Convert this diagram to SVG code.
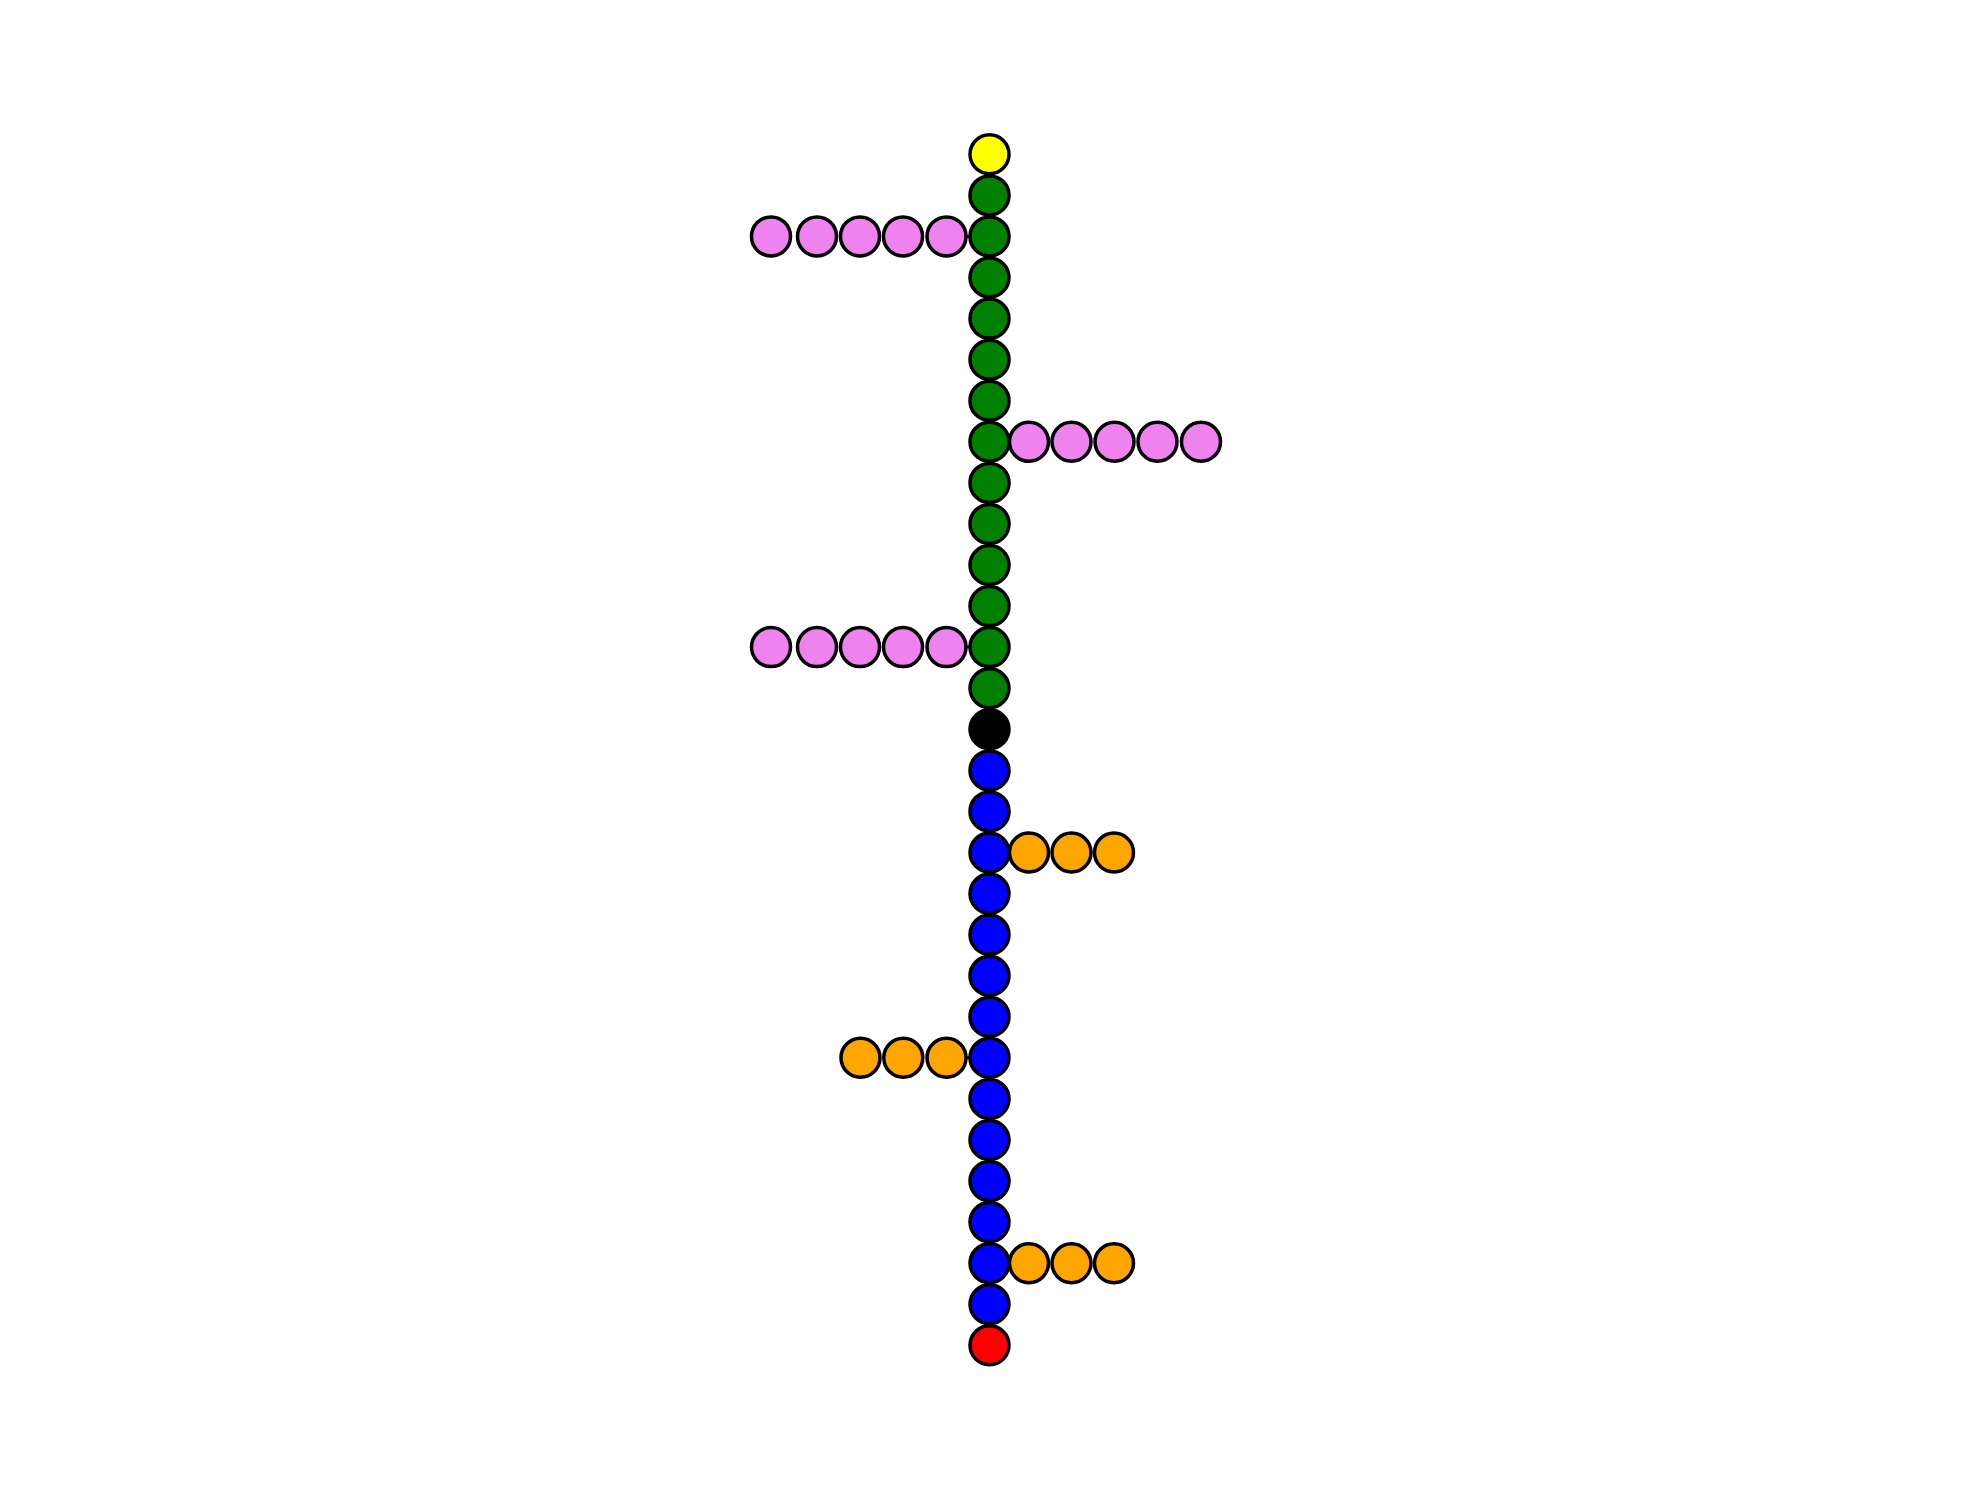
<svg xmlns="http://www.w3.org/2000/svg" width="1980" height="1500" viewBox="0 0 1980 1500">
<style>
.n{stroke:#000;stroke-width:3.5}
.y{fill:#ffff00}.g{fill:#008000}.k{fill:#000}.b{fill:#0000ff}.r{fill:#ff0000}.p{fill:#ee82ee}.o{fill:#ffa500}
.e{stroke:#000;stroke-width:3;fill:none}
</style>
<rect width="1980" height="1500" fill="#fff"/>
<g id="connectors">
<line class="e" x1="989.5" y1="154.3" x2="989.5" y2="1345.3"/>
<line class="e" x1="946.5" y1="236.4" x2="989.5" y2="236.4"/>
<line class="e" x1="989.5" y1="441.8" x2="1029" y2="441.8"/>
<line class="e" x1="946.5" y1="647.1" x2="989.5" y2="647.1"/>
<line class="e" x1="989.5" y1="852.5" x2="1029" y2="852.5"/>
<line class="e" x1="946.5" y1="1057.8" x2="989.5" y2="1057.8"/>
<line class="e" x1="989.5" y1="1263.2" x2="1029" y2="1263.2"/>
</g>
<g id="branch-left-1">
<circle id="p1a" class="n p" cx="771" cy="236.4" r="19.5"/>
<circle id="p1b" class="n p" cx="817" cy="236.4" r="19.5"/>
<circle id="p1c" class="n p" cx="860" cy="236.4" r="19.5"/>
<circle id="p1d" class="n p" cx="903" cy="236.4" r="19.5"/>
<circle id="p1e" class="n p" cx="946.5" cy="236.4" r="19.5"/>
</g>
<g id="branch-right-1">
<circle id="p2e" class="n p" cx="1201" cy="441.8" r="19.5"/>
<circle id="p2d" class="n p" cx="1157.5" cy="441.8" r="19.5"/>
<circle id="p2c" class="n p" cx="1114.5" cy="441.8" r="19.5"/>
<circle id="p2b" class="n p" cx="1071.5" cy="441.8" r="19.5"/>
<circle id="p2a" class="n p" cx="1029" cy="441.8" r="19.5"/>
</g>
<g id="branch-left-2">
<circle id="p3a" class="n p" cx="771" cy="647.1" r="19.5"/>
<circle id="p3b" class="n p" cx="817" cy="647.1" r="19.5"/>
<circle id="p3c" class="n p" cx="860" cy="647.1" r="19.5"/>
<circle id="p3d" class="n p" cx="903" cy="647.1" r="19.5"/>
<circle id="p3e" class="n p" cx="946.5" cy="647.1" r="19.5"/>
</g>
<g id="branch-right-2">
<circle id="o1c" class="n o" cx="1114" cy="852.5" r="19.5"/>
<circle id="o1b" class="n o" cx="1071.5" cy="852.5" r="19.5"/>
<circle id="o1a" class="n o" cx="1029" cy="852.5" r="19.5"/>
</g>
<g id="branch-left-3">
<circle id="o2a" class="n o" cx="860.5" cy="1057.8" r="19.5"/>
<circle id="o2b" class="n o" cx="903.3" cy="1057.8" r="19.5"/>
<circle id="o2c" class="n o" cx="946.5" cy="1057.8" r="19.5"/>
</g>
<g id="branch-right-3">
<circle id="o3c" class="n o" cx="1114" cy="1263.2" r="19.5"/>
<circle id="o3b" class="n o" cx="1071.5" cy="1263.2" r="19.5"/>
<circle id="o3a" class="n o" cx="1029" cy="1263.2" r="19.5"/>
</g>
<g id="main-chain">
<circle id="m0" class="n y" cx="989.5" cy="154.3" r="19.5"/>
<circle id="m1" class="n g" cx="989.5" cy="195.4" r="19.5"/>
<circle id="m2" class="n g" cx="989.5" cy="236.4" r="19.5"/>
<circle id="m3" class="n g" cx="989.5" cy="277.5" r="19.5"/>
<circle id="m4" class="n g" cx="989.5" cy="318.6" r="19.5"/>
<circle id="m5" class="n g" cx="989.5" cy="359.7" r="19.5"/>
<circle id="m6" class="n g" cx="989.5" cy="400.7" r="19.5"/>
<circle id="m7" class="n g" cx="989.5" cy="441.8" r="19.5"/>
<circle id="m8" class="n g" cx="989.5" cy="482.9" r="19.5"/>
<circle id="m9" class="n g" cx="989.5" cy="523.9" r="19.5"/>
<circle id="m10" class="n g" cx="989.5" cy="565" r="19.5"/>
<circle id="m11" class="n g" cx="989.5" cy="606.1" r="19.5"/>
<circle id="m12" class="n g" cx="989.5" cy="647.1" r="19.5"/>
<circle id="m13" class="n g" cx="989.5" cy="688.2" r="19.5"/>
<circle id="m14" class="n k" cx="989.5" cy="729.3" r="19.5"/>
<circle id="m15" class="n b" cx="989.5" cy="770.4" r="19.5"/>
<circle id="m16" class="n b" cx="989.5" cy="811.4" r="19.5"/>
<circle id="m17" class="n b" cx="989.5" cy="852.5" r="19.5"/>
<circle id="m18" class="n b" cx="989.5" cy="893.6" r="19.5"/>
<circle id="m19" class="n b" cx="989.5" cy="934.6" r="19.5"/>
<circle id="m20" class="n b" cx="989.5" cy="975.7" r="19.5"/>
<circle id="m21" class="n b" cx="989.5" cy="1016.8" r="19.5"/>
<circle id="m22" class="n b" cx="989.5" cy="1057.8" r="19.5"/>
<circle id="m23" class="n b" cx="989.5" cy="1098.9" r="19.5"/>
<circle id="m24" class="n b" cx="989.5" cy="1140" r="19.5"/>
<circle id="m25" class="n b" cx="989.5" cy="1181.1" r="19.5"/>
<circle id="m26" class="n b" cx="989.5" cy="1222.1" r="19.5"/>
<circle id="m27" class="n b" cx="989.5" cy="1263.2" r="19.5"/>
<circle id="m28" class="n b" cx="989.5" cy="1304.3" r="19.5"/>
<circle id="m29" class="n r" cx="989.5" cy="1345.3" r="19.5"/>
</g>
</svg>
